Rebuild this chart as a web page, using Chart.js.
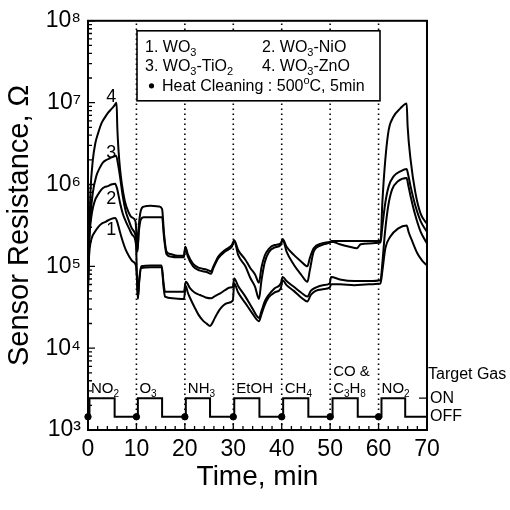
<!DOCTYPE html>
<html>
<head>
<meta charset="utf-8">
<script src="https://cdn.jsdelivr.net/npm/chart.js@4.4.1/dist/chart.umd.min.js"></script>
<style>
  html, body { margin: 0; padding: 0; background: #fff; }
  #wrap { width: 510px; height: 510px; }
</style>
</head>
<body>
<div id="wrap"><canvas id="sensorChart" width="510" height="510"></canvas></div>
<script>
(function () {
    'use strict';

    // ── Values: time in min, log10 of resistance in ohm ──
    const seriesNames = ['WO_3', 'WO_3-NiO', 'WO_3-TiO_2', 'WO_3-ZnO'];

    const timeWO3 = [0, 0.15, 0.35, 0.8, 1.4, 2.1, 2.8, 3.5, 4.1, 4.8, 5.6, 6.0, 6.6, 7.2, 7.8, 8.5, 9.2, 9.9, 10.1, 10.3,
        10.6, 11.0, 13, 15.2, 15.6, 15.9, 17.5, 19.8, 20.2, 20.6, 21.1, 22, 22.8, 23.7, 24.5, 25.2, 25.7, 26.2, 27.3, 28.7,
        29.9, 30.2, 31, 32.5, 34, 35.3, 35.8, 36.5, 37.3, 38.5, 39.8, 40.2, 41, 42.5, 44, 45.3, 46, 47, 48.5, 49.9,
        50.2, 52, 55, 58, 60.4, 60.8, 61.4, 62.4, 64, 65.8, 66.2, 67, 68, 69, 70];
    const logWO3 = [4.8, 5.05, 5.22, 5.35, 5.42, 5.48, 5.52, 5.54, 5.56, 5.58, 5.59, 5.55, 5.42, 5.3, 5.2, 5.12, 5.06, 5.01, 4.85, 4.6,
        4.83, 4.98, 4.99, 4.99, 4.75, 4.63, 4.61, 4.6, 4.76, 4.68, 4.61, 4.5, 4.41, 4.34, 4.3, 4.27, 4.31, 4.37, 4.48, 4.55,
        4.58, 4.79, 4.68, 4.55, 4.42, 4.33, 4.41, 4.53, 4.62, 4.68, 4.73, 4.83, 4.77, 4.7, 4.62, 4.57, 4.65, 4.7, 4.72, 4.74,
        4.78, 4.78, 4.77, 4.78, 4.79, 4.95, 5.22, 5.36, 5.46, 5.5, 5.42, 5.3, 5.16, 5.07, 5.01];

    const timeNiO = [0, 0.15, 0.35, 0.8, 1.4, 2.1, 2.8, 3.5, 4.1, 4.8, 5.6, 6.0, 6.6, 7.2, 7.8, 8.5, 9.2, 9.9, 10.1, 10.3,
        10.6, 11.0, 13, 15.2, 15.6, 15.9, 17.5, 19.8, 20.2, 21.1, 22, 23.1, 24.3, 25.5, 26.3, 27.3, 28.3, 29.3, 29.9, 30.2,
        31, 32.5, 34, 35.3, 35.8, 36.5, 37.3, 38.5, 39.8, 40.2, 41, 42.5, 44, 45.3, 46, 47, 48.5, 49.9, 50.2, 52,
        55, 58, 60.4, 60.8, 61.3, 62, 62.8, 64, 65.8, 66.1, 66.6, 67.6, 68.7, 70];
    const logNiO = [4.75, 5.2, 5.42, 5.65, 5.8, 5.88, 5.94, 5.97, 5.98, 6.0, 6.01, 5.95, 5.78, 5.64, 5.55, 5.46, 5.38, 5.27, 4.9, 4.62,
        4.85, 5.0, 5.01, 5.01, 4.8, 4.69, 4.69, 4.69, 4.81, 4.73, 4.68, 4.65, 4.62, 4.61, 4.64, 4.67, 4.71, 4.74, 4.75, 4.85,
        4.76, 4.63, 4.48, 4.37, 4.45, 4.57, 4.65, 4.73, 4.79, 4.87, 4.82, 4.75, 4.68, 4.63, 4.7, 4.74, 4.77, 4.79, 4.87, 4.84,
        4.82, 4.82, 4.83, 5.05, 5.4, 5.74, 5.94, 6.04, 6.08, 6.0, 5.86, 5.62, 5.42, 5.28];

    const timeTiO2 = [0, 0.2, 0.5, 1.0, 1.7, 2.4, 3.1, 3.8, 4.5, 5.2, 5.8, 6.2, 6.6, 7.2, 7.8, 8.3, 9.0, 9.8, 10.0, 10.2,
        10.5, 10.9, 11.5, 13, 15.3, 15.7, 16.2, 17, 18.5, 19.8, 20.1, 20.6, 21.7, 23, 24.5, 25.4, 25.9, 26.9, 28.3, 29.7,
        30.2, 31, 32.5, 33.5, 34.5, 35.3, 35.8, 36.5, 37.3, 38.5, 39.8, 40.2, 41, 42.5, 44, 45.3, 45.8, 46.6, 48.3, 50,
        50.3, 52, 54, 55.5, 56.3, 58, 60.4, 60.8, 61.4, 62.1, 63.1, 64.5, 65.8, 66.0, 66.6, 67.6, 68.7, 70];
    const logTiO2 = [4.72, 5.2, 5.6, 5.9, 6.1, 6.2, 6.27, 6.3, 6.32, 6.34, 6.35, 6.25, 6.1, 5.85, 5.67, 5.58, 5.47, 5.38, 5.3, 5.18,
        5.42, 5.57, 5.6, 5.6, 5.6, 5.35, 5.15, 5.12, 5.11, 5.11, 5.23, 5.12, 5.0, 4.95, 4.93, 4.91, 4.98, 5.1, 5.18, 5.24,
        5.31, 5.14, 5.0, 4.86, 4.75, 4.6, 4.82, 5.05, 5.17, 5.23, 5.26, 5.33, 5.18, 5.02, 4.9, 4.81, 4.95, 5.18, 5.26, 5.29,
        5.3, 5.27, 5.24, 5.22, 5.27, 5.28, 5.29, 5.5, 5.78, 5.98, 6.1, 6.16, 6.19, 6.15, 5.98, 5.74, 5.55, 5.42];

    const timeZnO = [0, 0.2, 0.5, 1.0, 1.5, 2.1, 2.8, 3.5, 4.2, 4.8, 5.4, 5.9, 6.05, 6.3, 6.6, 7.0, 7.6, 8.3, 9.0, 9.8,
        10.0, 10.2, 10.5, 10.9, 11.5, 13, 14.7, 15.3, 15.7, 16.2, 17, 18.5, 19.8, 20.1, 20.6, 21.7, 23, 24.5, 25.4, 25.9,
        26.9, 28.3, 29.7, 30.2, 31, 32.5, 33.5, 34.5, 35.3, 35.8, 36.5, 37.3, 38.5, 39.8, 40.2, 41, 42.5, 44, 45.3, 45.8,
        46.6, 48.3, 50, 50.3, 53, 56, 60.4, 60.8, 61.4, 62.1, 63.1, 64.5, 65.8, 66.0, 66.6, 67.6, 68.7, 70];
    const logZnO = [4.68, 5.3, 5.9, 6.3, 6.5, 6.63, 6.75, 6.82, 6.88, 6.92, 6.96, 7.0, 6.7, 6.42, 6.2, 6.0, 5.8, 5.67, 5.6, 5.55,
        5.4, 5.18, 5.5, 5.68, 5.73, 5.74, 5.73, 5.7, 5.4, 5.18, 5.15, 5.13, 5.13, 5.24, 5.15, 5.03, 4.98, 4.96, 4.94, 5.0,
        5.12, 5.2, 5.26, 5.32, 5.2, 5.08, 4.98, 4.9, 4.8, 4.98, 5.13, 5.21, 5.26, 5.28, 5.33, 5.24, 5.14, 5.06, 5.0, 5.1,
        5.22, 5.28, 5.3, 5.31, 5.31, 5.31, 5.31, 5.8, 6.31, 6.67, 6.83, 6.93, 6.99, 6.71, 6.31, 5.9, 5.64, 5.52];

    // heat cleaning marks and target gas on/off trace
    const heatTimes   = [0, 10, 20, 30, 40, 50, 60];
    const gasNames    = ['NO_2', 'O_3', 'NH_3', 'EtOH', 'CH_4', 'CO &|C_3H_8', 'NO_2'];
    const gasOnTimes  = [0.3, 10.3, 20.2, 30.2, 40.3, 50.5, 60.6];
    const gasOffTimes = [5.5, 15.3, 25.2, 35.4, 45.5, 55.7, 65.5];
    const gasOnOhm    = 2450;
    const gasOffOhm   = 1450;

    // axes
    const xTicks = [0, 10, 20, 30, 40, 50, 60, 70];
    const yTicks = [1e3, 1e4, 1e5, 1e6, 1e7, 1e8];

    // ── Helpers ──────────────────────────────────────────────────────────────
    const FONT = '"Liberation Sans", Arial, Helvetica, sans-serif';
    const SUP  = { 3: '³', 4: '⁴', 5: '⁵', 6: '⁶', 7: '⁷', 8: '⁸' };

    const toPoints = (ts, logs) => ts.map((t, i) => ({ x: t, y: Math.pow(10, logs[i]) }));

    // "_x" = subscript char, "^x" = superscript char
    function richParts(str) {
        const parts = [];
        let buf = '';
        for (let i = 0; i < str.length; i++) {
            const c = str[i];
            if ((c === '_' || c === '^') && i + 1 < str.length) {
                if (buf) { parts.push([buf, '']); buf = ''; }
                parts.push([str[i + 1], c === '_' ? 'sub' : 'sup']);
                i++;
            } else {
                buf += c;
            }
        }
        if (buf) parts.push([buf, '']);
        return parts;
    }

    function drawRich(ctx, str, x, y, size, align) {
        const parts  = richParts(str);
        const fontOf = k => `${k ? Math.round(size * 0.68) : size}px ${FONT}`;
        let w = 0;
        parts.forEach(([t, k]) => { ctx.font = fontOf(k); w += ctx.measureText(t).width; });
        let cx = align === 'center' ? x - w / 2 : align === 'right' ? x - w : x;
        ctx.textAlign    = 'left';
        ctx.textBaseline = 'alphabetic';
        parts.forEach(([t, k]) => {
            ctx.font = fontOf(k);
            const dy = k === 'sub' ? size * 0.28 : k === 'sup' ? -size * 0.42 : 0;
            ctx.fillText(t, cx, y + dy);
            cx += ctx.measureText(t).width;
        });
    }

    // ── Datasets ─────────────────────────────────────────────────────────────
    const curveStyle = {
        borderColor: '#000',
        borderWidth: 2,
        pointRadius: 0,
        cubicInterpolationMode: 'monotone',
        fill: false,
    };

    const gasTrace = [{ x: 0, y: gasOffOhm }];
    gasOnTimes.forEach((on, i) => {
        gasTrace.push({ x: on, y: gasOffOhm }, { x: on, y: gasOnOhm },
                      { x: gasOffTimes[i], y: gasOnOhm }, { x: gasOffTimes[i], y: gasOffOhm });
    });
    gasTrace.push({ x: 70, y: gasOffOhm });

    const dottedLines = heatTimes.filter(t => t > 0).map(t => ({
        data: [{ x: t, y: yTicks[0] }, { x: t, y: yTicks[yTicks.length - 1] }],
        borderColor: '#000',
        borderWidth: 1.6,
        borderDash: [1.6, 3.4],
        pointRadius: 0,
    }));

    const datasets = [
        ...dottedLines,
        { label: seriesNames[0], data: toPoints(timeWO3, logWO3),   ...curveStyle },
        { label: seriesNames[1], data: toPoints(timeNiO, logNiO),   ...curveStyle },
        { label: seriesNames[2], data: toPoints(timeTiO2, logTiO2), ...curveStyle },
        { label: seriesNames[3], data: toPoints(timeZnO, logZnO),   ...curveStyle },
        { data: gasTrace, borderColor: '#000', borderWidth: 2, pointRadius: 0 },
        {
            data: heatTimes.map(t => ({ x: t, y: gasOffOhm })),
            showLine: false,
            pointRadius: 3.2,
            pointBackgroundColor: '#000',
            pointBorderColor: '#000',
            clip: false,
        },
    ];

    // ── Overlay: frame, inward ticks, legend box, annotations ───────────────
    const overlay = {
        id: 'overlay',
        afterDatasetsDraw(chart) {
            const { ctx, chartArea: ca, scales: { x, y } } = chart;
            ctx.save();
            ctx.strokeStyle = '#000';
            ctx.fillStyle   = '#000';

            // frame
            ctx.lineWidth = 2;
            ctx.strokeRect(ca.left, ca.top, ca.right - ca.left, ca.bottom - ca.top);

            // left ticks (log decades + minors)
            ctx.lineWidth = 1.3;
            ctx.beginPath();
            for (let d = 3; d <= 8; d++) {
                const py = y.getPixelForValue(Math.pow(10, d));
                ctx.moveTo(ca.left, py); ctx.lineTo(ca.left + 7, py);
                if (d === 8) break;
                for (let m = 2; m <= 9; m++) {
                    const pm = y.getPixelForValue(m * Math.pow(10, d));
                    ctx.moveTo(ca.left, pm); ctx.lineTo(ca.left + 4, pm);
                }
            }
            // bottom ticks
            for (let t = 0; t <= 70; t += 2) {
                const px = x.getPixelForValue(t);
                ctx.moveTo(px, ca.bottom); ctx.lineTo(px, ca.bottom - (t % 10 === 0 ? 7 : 4));
            }
            // ON marker on the right axis
            const yOn  = y.getPixelForValue(gasOnOhm);
            const yOff = y.getPixelForValue(gasOffOhm);
            ctx.moveTo(ca.right - 8, yOn); ctx.lineTo(ca.right, yOn);
            ctx.stroke();

            // legend box
            const bx = ca.left + 49, by = ca.top + 10, bw = 243, bh = 70;
            ctx.fillStyle = '#fff';
            ctx.fillRect(bx, by, bw, bh);
            ctx.lineWidth = 1.6;
            ctx.strokeRect(bx, by, bw, bh);
            ctx.fillStyle = '#000';
            const colX = [bx + 8, bx + 125];
            const rowY = [by + 21, by + 40];
            seriesNames.forEach((name, i) => {
                drawRich(ctx, `${i + 1}. ${name}`, colX[i % 2], rowY[Math.floor(i / 2)], 16, 'left');
            });
            ctx.beginPath();
            ctx.arc(bx + 14.5, by + 55, 2.6, 0, Math.PI * 2);
            ctx.fill();
            drawRich(ctx, 'Heat Cleaning : 500^oC, 5min', bx + 25, by + 60, 16, 'left');

            // curve numbers near the first NO2 pulse
            const numberAnchors = [[4.8, 5.44], [4.8, 5.82], [4.8, 6.38], [4.8, 7.07]];
            ctx.font = `18px ${FONT}`;
            ctx.textAlign = 'center';
            ctx.textBaseline = 'middle';
            numberAnchors.forEach(([t, lg], i) => {
                ctx.fillText(String(i + 1), x.getPixelForValue(t), y.getPixelForValue(Math.pow(10, lg)));
            });

            // gas names above each pulse
            gasNames.forEach((g, i) => {
                const lines = g.split('|');
                const gx = x.getPixelForValue(heatTimes[i]) + 3;
                lines.forEach((ln, j) => {
                    drawRich(ctx, ln, gx, yOn - 5 - (lines.length - 1 - j) * 17, 15, 'left');
                });
            });

            // right-hand labels
            ctx.font = `16px ${FONT}`;
            ctx.textAlign = 'left';
            ctx.textBaseline = 'alphabetic';
            ctx.fillText('Target Gas', ca.right + 1, yOn - 19);
            ctx.textBaseline = 'middle';
            ctx.fillText('ON', ca.right + 3, yOn);
            ctx.fillText('OFF', ca.right + 3, yOff);

            ctx.restore();
        }
    };

    // ── Chart ────────────────────────────────────────────────────────────────
    Chart.defaults.font.family = FONT;
    Chart.defaults.color       = '#000';

    new Chart(document.getElementById('sensorChart'), {
        type: 'line',
        data: { datasets },
        options: {
            responsive: false,
            animation: false,
            events: [],
            devicePixelRatio: 1,
            layout: { padding: { top: 17, right: 83, bottom: 0, left: 0 } },
            plugins: {
                legend:  { display: false },
                tooltip: { enabled: false },
            },
            scales: {
                x: {
                    type: 'linear',
                    min: 0,
                    max: 70,
                    afterBuildTicks: s => { s.ticks = xTicks.map(v => ({ value: v })); },
                    afterFit: s => { s.height = 80; },
                    grid:   { display: false, drawTicks: false },
                    border: { display: false },
                    ticks:  { font: { size: 23 }, color: '#000', padding: 6, maxRotation: 0 },
                    title:  {
                        display: true,
                        text: 'Time, min',
                        font: { size: 28 },
                        color: '#000',
                        padding: { top: 0, bottom: 16 },
                    },
                },
                y: {
                    type: 'logarithmic',
                    min: yTicks[0],
                    max: yTicks[yTicks.length - 1],
                    afterBuildTicks: s => { s.ticks = yTicks.map(v => ({ value: v })); },
                    afterFit: s => { s.width = 88; },
                    grid:   { display: false, drawTicks: false },
                    border: { display: false },
                    ticks:  {
                        font: { size: 23 },
                        color: '#000',
                        padding: 7,
                        autoSkip: false,
                        callback: v => '10' + SUP[Math.round(Math.log10(v))],
                    },
                    title:  {
                        display: true,
                        text: 'Sensor Resistance, Ω',
                        font: { size: 29 },
                        color: '#000',
                        padding: { top: 3, bottom: 0 },
                    },
                },
            },
        },
        plugins: [overlay],
    });
})();
</script>
</body>
</html>
